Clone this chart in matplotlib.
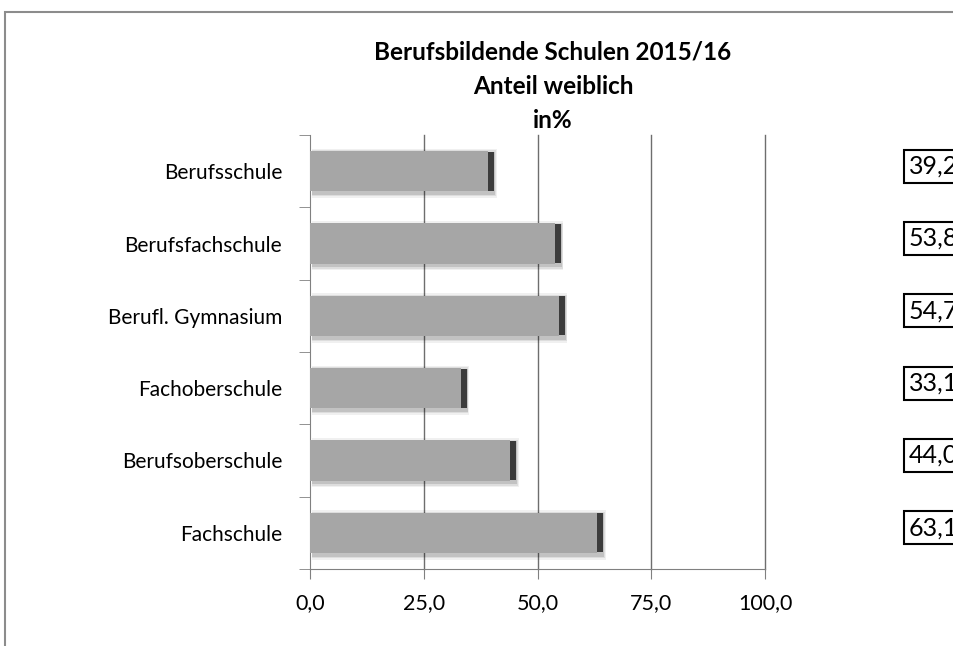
import matplotlib
matplotlib.use("Agg")
import matplotlib.pyplot as plt
from matplotlib.patches import Rectangle

categories = ["Berufsschule", "Berufsfachschule", "Berufl. Gymnasium",
              "Fachoberschule", "Berufsoberschule", "Fachschule"]
values = [39.2, 53.8, 54.7, 33.1, 44.0, 63.1]
xticks = [0, 25, 50, 75, 100]
xtick_labels = ["0,0", "25,0", "50,0", "75,0", "100,0"]

plt.rcParams["font.family"] = ["Lato", "DejaVu Sans"]

fig = plt.figure(figsize=(9.54, 6.46), dpi=100)
# outer chart frame (cut off at right and bottom)
fig.patches.append(Rectangle((5 / 954, -0.1), 1.2, 1.1 - 12 / 646, transform=fig.transFigure,
                             fill=False, edgecolor="#8c8c8c", linewidth=1.5))

ax = fig.add_axes([310 / 954, 77 / 646, 455 / 954, 434 / 646])
y = list(range(len(categories)))

# blurred shadow, main bar, dark bevel at the end
for grow, a in [(0.12, 0.06), (0.08, 0.08), (0.04, 0.12)]:
    ax.barh([i + 0.03 for i in y], [v + 1.0 + 4 * grow for v in values], height=0.56 + grow,
            left=0.4, color="#000000", alpha=a, linewidth=0, zorder=2)
ax.barh(y, values, height=0.56, color="#a6a6a6", linewidth=0, zorder=3)
ax.barh(y, [1.3] * len(values), left=values, height=0.54, color="#3c3c3c", linewidth=0, zorder=3)

ax.set_xlim(0, 100)
ax.set_ylim(len(categories) - 0.5, -0.5)
ax.set_xticks(xticks)
ax.set_xticklabels(xtick_labels, fontsize=15.5)
ax.set_yticks(y)
ax.set_yticklabels(categories, fontsize=15)
ax.tick_params(axis="y", length=0, pad=20)
ax.set_yticks([i - 0.5 for i in range(len(categories) + 1)], minor=True)
ax.tick_params(axis="y", which="minor", length=8, direction="out", color="#808080")
ax.tick_params(axis="x", length=7, direction="out", color="#808080", pad=10)

for t in xticks[1:]:
    ax.axvline(t, color="#6e6e6e", linewidth=1, zorder=0, clip_on=False)
for s in ["top", "right"]:
    ax.spines[s].set_visible(False)
ax.spines["left"].set_color("#808080")
ax.spines["bottom"].set_color("#808080")

# value labels, partly cut off by the right edge as in the original
for i, v in enumerate(values):
    ax.text(131.6, i - 0.07, f"{v:.1f}".replace(".", ","), fontsize=18, va="center", ha="left",
            clip_on=False,
            bbox=dict(boxstyle="square,pad=0.2", facecolor="white", edgecolor="black", linewidth=1.5))

fig.text(553 / 954, 1 - 52 / 646, "Berufsbildende Schulen 2015/16", ha="center", va="center",
         fontsize=17.5, fontweight="bold")
fig.text(553 / 954, 1 - 86 / 646, "Anteil weiblich", ha="center", va="center",
         fontsize=17.5, fontweight="bold")
fig.text(553 / 954, 1 - 120 / 646, "in%", ha="center", va="center",
         fontsize=17.5, fontweight="bold")

fig.savefig("out.png", dpi=100)
